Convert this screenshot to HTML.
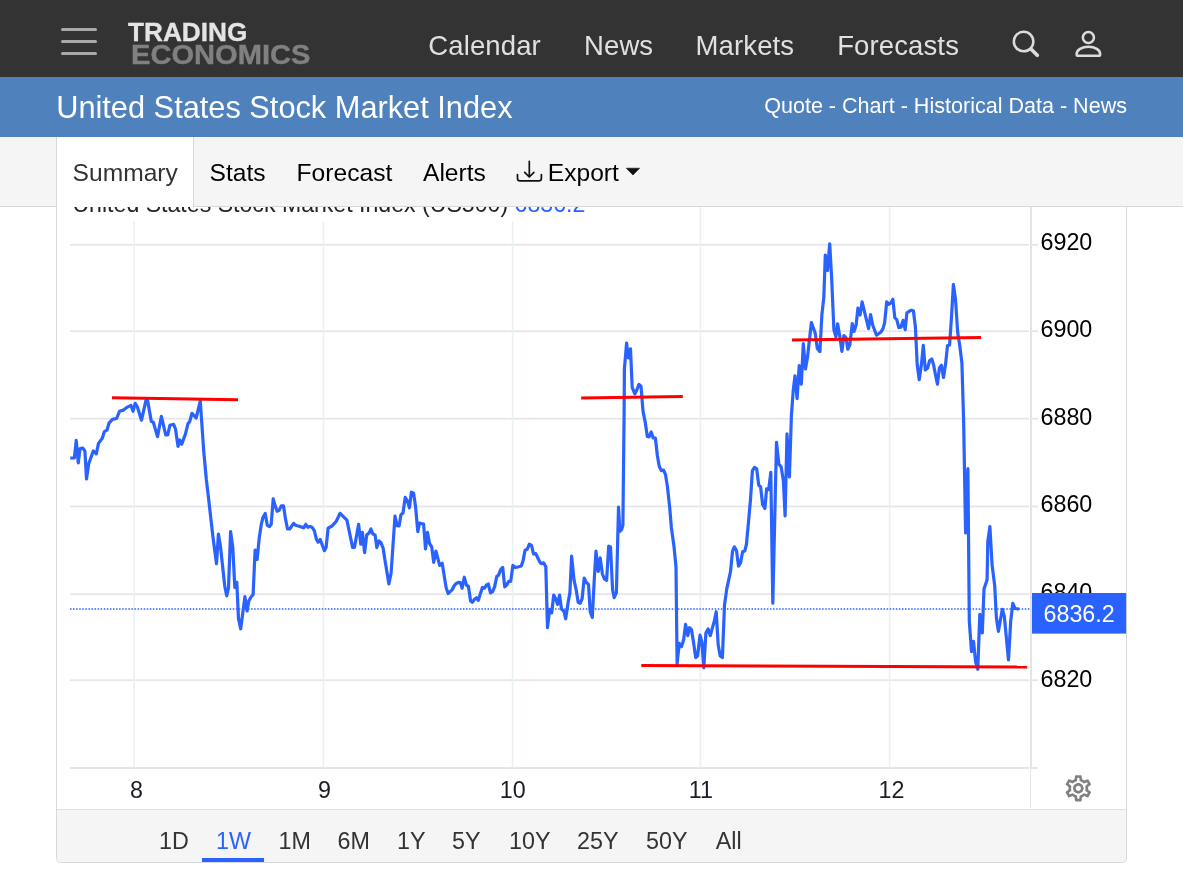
<!DOCTYPE html>
<html lang="en">
<head>
<meta charset="utf-8">
<title>United States Stock Market Index</title>
<style>
*{box-sizing:border-box;margin:0;padding:0}
html,body{width:1183px;height:892px;overflow:hidden;background:#fff;font-family:"Liberation Sans",sans-serif;color:#212529}
#nav{position:absolute;left:0;top:0;width:1183px;height:77px;background:#333}
#burger{position:absolute;left:60.8px;top:27.7px;width:36.4px;height:28px}
#burger i{position:absolute;left:0;width:36.4px;height:3px;border-radius:1.5px;background:#a9a9a9}
#logo1{position:absolute;left:128.4px;top:16.7px;font-size:25.5px;font-weight:bold;color:#e4e4e4;line-height:30px;white-space:nowrap;transform-origin:0 0;transform:scaleX(1.027);-webkit-text-stroke:0.3px #e4e4e4}
#logo2{position:absolute;left:131.4px;top:39.3px;font-size:27.5px;font-weight:bold;color:#808080;line-height:32px;white-space:nowrap;transform-origin:0 0;transform:scaleX(1.058);-webkit-text-stroke:0.4px #808080}
.nv{position:absolute;top:29.9px;letter-spacing:0.12px;font-size:27.5px;line-height:32px;color:#e0e0e0;white-space:nowrap}
#bar{position:absolute;left:0;top:77px;width:1183px;height:60px;background:#4f81bd}
#title{position:absolute;left:56.2px;top:90.5px;font-size:30.75px;line-height:34px;color:#fff;white-space:nowrap}
#links{position:absolute;right:56px;top:93.5px;font-size:21.55px;line-height:24px;color:#fff;white-space:nowrap}
#tabs{position:absolute;left:0;top:137px;width:1183px;height:70.2px;background:#f5f5f5;border-bottom:1.3px solid #d8d8d8}
#tabsum{position:absolute;left:56px;top:137px;width:138.3px;height:70.2px;background:#fff;border-left:1.3px solid #d6d9dc;border-right:1.3px solid #d6d9dc}
.tb{position:absolute;top:158.9px;font-size:24.6px;line-height:28px;color:#000;white-space:nowrap}
#card{position:absolute;left:56px;top:200px;width:1071.2px;height:663.2px;border:1.4px solid #d6d9dc;border-radius:0 0 4.5px 4.5px;background:#fff;overflow:hidden}
#hdr{position:absolute;left:72.4px;top:189.7px;font-size:23.14px;line-height:28px;color:#212529;white-space:nowrap}
#hdr b{font-weight:normal;color:#2962ff}
#chart{position:absolute;left:0;top:0}
#foot{position:absolute;left:57.3px;top:808.7px;width:1068.6px;height:53.2px;background:#f5f5f5;border-top:1px solid #dedede;border-radius:0 0 4px 4px}
.rg{position:absolute;top:827.1px;font-size:23.3px;line-height:28px;color:#333;white-space:nowrap}
#sel{position:absolute;left:202.2px;top:858.3px;width:61.7px;height:3.3px;background:#2962ff}
</style>
</head>
<body>
<div id="card"></div>
<svg id="chart" width="1183" height="892" viewBox="0 0 1183 892">
<!--GRID-->
<g font-family="'Liberation Sans',sans-serif">
<rect x="70" y="243.9" width="959" height="1.8" fill="#e6e6e6"/>
<rect x="1032" y="243.9" width="6" height="1.8" fill="#e6e6e6"/>
<rect x="70" y="330.3" width="959" height="1.8" fill="#e6e6e6"/>
<rect x="1032" y="330.3" width="6" height="1.8" fill="#e6e6e6"/>
<rect x="70" y="417.8" width="959" height="1.8" fill="#e6e6e6"/>
<rect x="1032" y="417.8" width="6" height="1.8" fill="#e6e6e6"/>
<rect x="70" y="505.6" width="959" height="1.8" fill="#e6e6e6"/>
<rect x="1032" y="505.6" width="6" height="1.8" fill="#e6e6e6"/>
<rect x="70" y="593.3" width="959" height="1.8" fill="#e6e6e6"/>
<rect x="1032" y="593.3" width="6" height="1.8" fill="#e6e6e6"/>
<rect x="70" y="679.3" width="959" height="1.8" fill="#e6e6e6"/>
<rect x="1032" y="679.3" width="6" height="1.8" fill="#e6e6e6"/>
<rect x="133.3" y="207" width="1.6" height="560" fill="#e9f1f5"/>
<rect x="322.7" y="207" width="1.6" height="560" fill="#e9f1f5"/>
<rect x="511.8" y="207" width="1.6" height="560" fill="#e9f1f5"/>
<rect x="699.6" y="207" width="1.6" height="560" fill="#e9f1f5"/>
<rect x="888.8" y="207" width="1.6" height="560" fill="#e9f1f5"/>
<rect x="70" y="767" width="959" height="2" fill="#e6e6e6"/>
<rect x="1032" y="767" width="6" height="2" fill="#e6e6e6"/>
<rect x="1030" y="207" width="2" height="562" fill="#e4e4e4"/>
<rect x="1030" y="769" width="1" height="39" fill="#e6e6e6"/>
<rect x="57.4" y="206" width="560" height="15.4" fill="#fff"/>
<text x="1040.5" y="250.0" font-size="23.3" fill="#000">6920</text>
<text x="1040.5" y="337.4" font-size="23.3" fill="#000">6900</text>
<text x="1040.5" y="424.8" font-size="23.3" fill="#000">6880</text>
<text x="1040.5" y="512.2" font-size="23.3" fill="#000">6860</text>
<text x="1040.5" y="599.6" font-size="23.3" fill="#000">6840</text>
<text x="1040.5" y="687.0" font-size="23.3" fill="#000">6820</text>
<text x="136.6" y="798" font-size="23.3" fill="#1a1d24" text-anchor="middle">8</text>
<text x="324.6" y="798" font-size="23.3" fill="#1a1d24" text-anchor="middle">9</text>
<text x="512.7" y="798" font-size="23.3" fill="#1a1d24" text-anchor="middle">10</text>
<text x="700.8" y="798" font-size="23.3" fill="#1a1d24" text-anchor="middle">11</text>
<text x="891.4" y="798" font-size="23.3" fill="#1a1d24" text-anchor="middle">12</text>
<line x1="70" y1="609" x2="1031" y2="609" stroke="#2962ff" stroke-width="1.7" stroke-dasharray="1.5 1.57"/>
<path d="M70.3 458.1 L74.4 457.8 L76.2 440.4 L78.3 462.8 L80.0 448.5 L82.8 448.1 L84.9 451.0 L86.5 478.9 L88.7 463.7 L93.3 451.0 L96.3 453.9 L98.5 443.4 L102.3 438.3 L104.3 431.6 L107.0 430.2 L109.0 423.1 L112.4 419.4 L116.6 418.5 L119.5 411.3 L123.4 410.1 L126.8 407.4 L131.0 405.4 L133.0 411.3 L135.2 403.3 L137.4 407.0 L141.5 420.2 L145.9 400.6 L147.6 400.6 L151.3 421.4 L153.3 422.3 L157.5 436.6 L161.4 416.3 L165.7 434.9 L167.7 434.9 L169.9 425.3 L173.6 424.3 L175.5 429.0 L178.0 446.3 L179.7 440.0 L181.7 444.2 L185.4 434.1 L188.0 423.6 L189.8 421.4 L191.9 413.3 L196.1 418.0 L200.3 401.1 L203.7 451.0 L206.4 480.0 L208.6 498.6 L212.8 535.8 L216.5 563.7 L218.4 534.1 L220.4 545.9 L224.7 585.7 L226.7 595.8 L228.5 588.2 L230.6 531.6 L232.8 547.6 L234.8 587.4 L236.8 582.3 L238.5 618.6 L240.7 628.8 L244.9 596.7 L247.1 611.0 L248.8 600.9 L251.2 596.7 L253.1 594.6 L255.1 550.2 L257.1 559.5 L259.3 537.5 L261.3 524.3 L263.0 517.2 L265.2 513.5 L267.3 525.3 L269.5 526.5 L271.2 524.3 L273.2 498.9 L275.0 505.4 L277.1 511.3 L279.1 510.4 L281.3 505.9 L283.5 505.9 L285.5 518.9 L287.5 529.0 L289.7 529.0 L293.6 523.4 L295.7 525.3 L299.9 526.5 L303.6 527.8 L305.8 524.3 L307.8 527.3 L310.0 526.5 L312.1 527.3 L314.3 530.7 L316.5 539.5 L318.1 542.2 L320.2 539.5 L324.4 550.7 L326.1 547.6 L328.1 528.2 L332.0 526.0 L336.2 521.4 L340.1 513.3 L346.9 520.1 L352.6 547.3 L354.5 547.3 L358.6 524.3 L360.8 544.2 L362.4 532.4 L364.6 552.7 L366.7 534.9 L368.9 533.3 L370.9 529.0 L372.9 534.1 L375.1 534.9 L376.8 547.6 L378.9 540.9 L381.0 542.8 L383.1 548.0 L385.1 561.1 L388.9 584.0 L391.1 573.0 L395.0 516.0 L397.0 525.6 L399.1 526.0 L400.9 514.7 L403.0 513.0 L405.2 497.4 L407.5 501.1 L409.4 507.9 L411.4 492.2 L413.6 493.2 L415.6 507.0 L417.8 531.6 L419.5 523.1 L423.6 524.0 L425.5 549.0 L427.5 532.4 L429.5 543.4 L431.7 546.8 L433.7 562.3 L435.9 551.0 L439.7 565.4 L442.2 563.2 L446.1 587.4 L448.1 593.6 L452.0 589.9 L454.2 585.7 L456.2 583.5 L458.4 582.3 L460.4 582.6 L462.1 588.2 L464.3 577.2 L466.4 585.2 L468.4 586.2 L470.6 600.9 L472.3 602.2 L474.5 599.2 L476.5 597.8 L478.2 600.4 L482.4 587.4 L484.5 588.2 L486.3 585.2 L488.3 584.0 L490.5 592.9 L492.6 591.6 L494.6 586.8 L496.8 576.4 L498.5 575.2 L500.7 569.6 L502.7 567.4 L504.7 586.8 L506.9 584.8 L508.6 581.4 L510.7 581.4 L512.9 565.4 L515.4 567.4 L518.8 566.7 L521.3 565.9 L523.0 561.1 L525.0 550.2 L527.2 549.3 L529.3 544.2 L531.5 545.4 L533.5 553.9 L535.7 553.5 L539.9 562.3 L541.6 563.7 L543.6 562.8 L545.8 566.6 L547.5 627.6 L549.7 609.3 L551.7 612.8 L553.7 595.1 L555.9 599.3 L557.6 604.4 L559.6 595.1 L561.5 609.1 L563.9 611.2 L565.7 618.8 L567.8 604.4 L569.9 592.6 L571.6 556.2 L574.0 579.9 L576.2 590.0 L578.2 602.4 L580.1 603.2 L582.1 599.0 L584.2 578.2 L586.3 582.4 L588.5 584.4 L590.2 611.7 L592.3 617.4 L594.3 579.0 L596.0 551.1 L598.2 571.4 L600.2 557.9 L602.4 574.0 L604.4 579.0 L606.6 580.4 L608.7 546.1 L610.5 546.9 L612.6 590.0 L614.2 597.6 L616.4 592.6 L618.5 507.1 L619.9 531.3 L621.6 529.6 L622.9 525.4 L624.1 414.5 L624.4 368.9 L626.6 343.2 L628.3 357.9 L630.5 348.9 L632.2 387.5 L634.8 393.9 L636.8 390.0 L639.0 384.4 L641.0 386.1 L643.0 411.1 L645.2 422.1 L647.3 436.5 L649.1 436.8 L651.2 431.9 L653.2 437.9 L655.4 438.2 L657.4 456.0 L659.3 466.5 L661.3 470.6 L663.5 470.0 L665.5 474.6 L667.5 487.3 L669.7 507.6 L671.4 527.9 L674.0 546.5 L676.0 567.0 L677.1 663.6 L679.3 643.3 L681.5 646.7 L683.6 639.9 L685.6 624.3 L687.8 635.7 L689.5 627.7 L691.5 629.7 L693.7 643.6 L695.7 657.6 L697.6 655.9 L700.0 635.2 L701.8 641.6 L703.8 667.8 L705.9 633.1 L708.1 628.9 L710.3 635.7 L712.3 628.1 L714.3 621.3 L716.2 611.7 L718.2 645.0 L720.2 655.9 L722.4 657.6 L724.5 605.2 L726.7 589.2 L730.5 571.6 L732.5 551.3 L734.3 546.8 L736.5 550.5 L738.5 566.1 L740.5 563.2 L742.6 551.8 L744.8 550.9 L746.4 544.5 L748.4 523.0 L750.5 499.5 L752.4 470.7 L754.5 467.5 L756.7 468.8 L758.7 485.1 L760.6 486.8 L762.6 504.5 L764.9 508.3 L766.6 488.9 L768.7 489.5 L770.8 472.4 L772.8 603.2 L776.5 442.3 L778.9 464.2 L781.1 466.8 L783.4 481.1 L785.1 515.8 L787.0 433.8 L789.4 476.9 L791.4 415.5 L793.2 391.0 L795.0 375.8 L797.1 398.6 L799.2 365.6 L801.3 384.2 L803.3 343.7 L805.5 369.0 L807.5 357.2 L811.4 322.5 L815.3 333.5 L817.3 348.5 L819.9 351.6 L821.9 314.5 L823.8 297.6 L825.3 255.0 L827.5 270.6 L829.7 243.9 L831.7 279.0 L833.9 329.7 L835.9 336.8 L837.6 323.8 L839.7 335.7 L841.9 351.4 L843.9 335.7 L846.1 337.9 L847.8 349.2 L849.8 345.0 L852.3 323.5 L854.0 331.4 L856.2 324.7 L857.9 308.1 L860.1 315.0 L862.1 301.9 L866.4 319.6 L868.6 328.6 L870.6 314.5 L872.6 324.7 L876.5 335.2 L880.7 332.3 L882.9 328.9 L884.6 323.0 L886.7 301.9 L888.9 304.4 L890.9 302.7 L892.9 299.3 L894.8 317.9 L896.8 319.6 L898.8 327.5 L901.0 327.2 L903.1 320.4 L905.2 329.7 L906.9 312.8 L909.5 311.1 L911.5 310.3 L913.4 310.8 L915.4 327.0 L917.2 364.5 L919.2 379.7 L921.3 365.6 L923.3 345.4 L925.3 370.0 L927.6 368.0 L929.6 360.8 L931.8 358.9 L933.7 365.4 L935.7 376.0 L937.4 384.2 L939.4 368.0 L941.4 365.3 L943.5 377.5 L945.6 363.8 L947.5 345.6 L949.6 345.0 L951.4 318.5 L953.4 284.4 L955.5 299.3 L957.7 332.5 L959.7 345.2 L961.9 363.0 L963.6 420.0 L965.6 533.0 L967.9 468.7 L969.3 621.1 L971.5 651.6 L973.5 641.4 L975.6 661.7 L977.8 669.3 L979.8 614.4 L982.3 633.0 L984.0 589.0 L987.1 579.7 L987.8 541.4 L989.9 526.7 L992.1 565.1 L994.7 585.6 L996.4 617.8 L998.4 631.3 L1002.3 609.3 L1004.3 616.1 L1008.5 660.0 L1010.7 621.1 L1012.8 603.4 L1015.0 608.5 L1019.2 609.0" fill="none" stroke="#2962ff" stroke-width="3.2" stroke-linejoin="round" stroke-linecap="butt"/>
<g stroke="#ff0000" stroke-width="3" stroke-linecap="butt">
<line x1="112" y1="397.8" x2="238" y2="399.8"/>
<line x1="581.2" y1="398.1" x2="682.8" y2="396.4"/>
<line x1="792" y1="339.9" x2="981" y2="337.6"/>
<line x1="641.3" y1="665.5" x2="1027.2" y2="667.1"/>
</g>
<rect x="1032" y="593" width="94.1" height="40.6" fill="#2962ff"/>
<text x="1043.5" y="621.5" font-size="23.3" fill="#fff">6836.2</text>
<path transform="translate(1062.6 772.6) scale(1.31)" fill="#808080" d="M19.43 12.98c.04-.32.07-.64.07-.98 0-.34-.03-.66-.07-.98l2.110-1.650c.19-.15.24-.42.12-.64l-2-3.460c-.09-.16-.26-.25-.44-.25-.06 0-.12.010-.17.030l-2.490 1c-.52-.4-1.080-.73-1.690-.98l-.38-2.650C14.460 2.180 14.250 2 14 2h-4c-.25 0-.46.180-.49.420l-.38 2.650c-.61.250-1.170.59-1.690.98l-2.490-1c-.06-.02-.12-.03-.18-.03-.17 0-.34.090-.43.250l-2 3.460c-.13.220-.07.490.12.640l2.110 1.650c-.04.320-.07.650-.07.980 0 .33.030.66.070.98l-2.110 1.650c-.19.150-.24.420-.12.640l2 3.460c.09.160.26.250.44.250.06 0 .12-.01.170-.03l2.490-1c.52.4 1.080.73 1.690.98l.38 2.650c.03.240.24.420.49.420h4c.25 0 .46-.18.490-.42l.38-2.650c.61-.25 1.170-.59 1.690-.98l2.490 1c.06.020.12.030.18.030.17 0 .34-.09.430-.25l2-3.460c.12-.22.070-.49-.12-.64l-2.110-1.650zm-1.980-1.710c.04.310.05.520.05.730 0 .21-.02.430-.05.730l-.14 1.130.89.700 1.080.84-.7 1.210-1.270-.51-1.040-.42-.9.680c-.43.320-.84.560-1.250.73l-1.060.43-.16 1.130-.2 1.350h-1.400l-.19-1.350-.16-1.130-1.060-.43c-.43-.18-.83-.41-1.230-.71l-.91-.7-1.060.43-1.270.51-.7-1.210 1.080-.84.890-.7-.14-1.130c-.03-.31-.05-.54-.05-.74s.02-.43.050-.73l.14-1.130-.89-.7-1.080-.84.700-1.210 1.270.51 1.040.42.900-.68c.43-.32.840-.56 1.250-.73l1.060-.43.160-1.130.2-1.350h1.390l.19 1.350.16 1.130 1.060.43c.43.180.83.410 1.230.710l.91.700 1.060-.43 1.270-.51.700 1.210-1.070.85-.89.700.14 1.130zM12 8c-2.210 0-4 1.790-4 4s1.790 4 4 4 4-1.790 4-4-1.790-4-4-4zm0 6c-1.100 0-2-.9-2-2s.9-2 2-2 2 .9 2 2-.9 2-2 2z"/>
</g>
<!--LINE-->
</svg>
<div id="hdr">United States Stock Market Index (US500) <b>6836.2</b></div>
<div id="foot"></div>
<div id="sel"></div>
<span class="rg" style="left:159px">1D</span>
<span class="rg" style="left:216px;color:#2962ff">1W</span>
<span class="rg" style="left:278.5px">1M</span>
<span class="rg" style="left:337.5px">6M</span>
<span class="rg" style="left:397px">1Y</span>
<span class="rg" style="left:452px">5Y</span>
<span class="rg" style="left:509px">10Y</span>
<span class="rg" style="left:577px">25Y</span>
<span class="rg" style="left:646px">50Y</span>
<span class="rg" style="left:715.7px">All</span>
<div id="tabs"></div>
<div id="tabsum"></div>
<span class="tb" style="left:72.6px;color:#333">Summary</span>
<span class="tb" style="left:209.6px">Stats</span>
<span class="tb" style="left:296.6px">Forecast</span>
<span class="tb" style="left:423px">Alerts</span>
<span class="tb" style="left:547.8px">Export</span>
<div id="bar"></div>
<div id="title">United States Stock Market Index</div>
<div id="links">Quote - Chart - Historical Data - News</div>
<div id="nav">
<div id="burger"><i style="top:0"></i><i style="top:12.1px"></i><i style="top:24.6px"></i></div>
<div id="logo1">TRADING</div>
<div id="logo2">ECONOMICS</div>
<span class="nv" style="left:428.3px">Calendar</span>
<span class="nv" style="left:584px">News</span>
<span class="nv" style="left:695.6px">Markets</span>
<span class="nv" style="left:837.2px">Forecasts</span>
</div>
<svg id="ov" width="1183" height="210" viewBox="0 0 1183 210" style="position:absolute;left:0;top:0">
<circle cx="1023.6" cy="41.6" r="9.75" fill="none" stroke="#dcdcdc" stroke-width="2.5"/>
<line x1="1031.2" y1="49.2" x2="1037.3" y2="55.2" stroke="#dcdcdc" stroke-width="3.7" stroke-linecap="round"/>
<circle cx="1088.4" cy="37.5" r="5.55" fill="none" stroke="#dcdcdc" stroke-width="2.5"/>
<path d="M1078.3 55.8 H1098.5 Q1100.2 55.8 1100.2 54.2 C1100.2 50 1095 46.8 1088.4 46.8 C1081.8 46.8 1076.6 50 1076.6 54.2 Q1076.6 55.8 1078.3 55.8 Z" fill="none" stroke="#dcdcdc" stroke-width="2.5"/>
<g fill="none" stroke="#111" stroke-width="1.7" stroke-linecap="round" stroke-linejoin="round">
<path d="M517.5 174.6 V178.2 Q517.5 180.9 520.2 180.9 H538.7 Q541.4 180.9 541.4 178.2 V174.6"/>
<path d="M529.3 161.4 V176.6 M524.7 172.3 L529.3 177 L533.9 172.3"/>
</g>
<path d="M626.3 168.2 H639.6 L633 175 Z" fill="#111" stroke="#111" stroke-width="0.6" stroke-linejoin="round"/>
</svg>
</body>
</html>
